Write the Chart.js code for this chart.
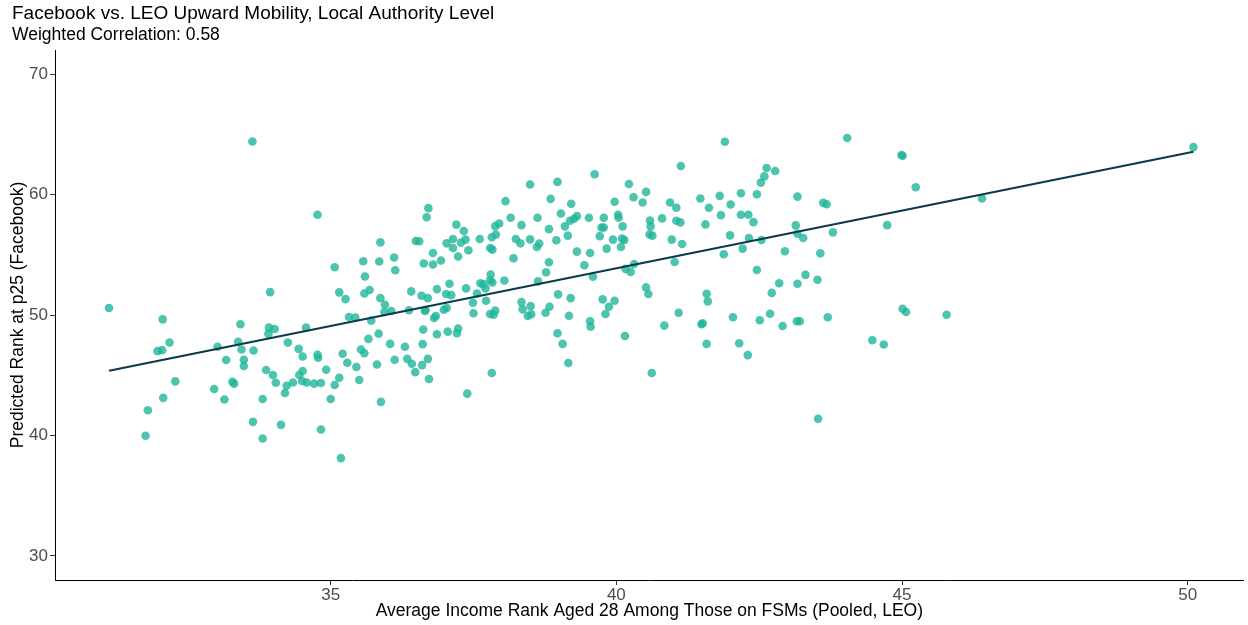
<!DOCTYPE html>
<html>
<head>
<meta charset="utf-8">
<script src="https://cdn.jsdelivr.net/npm/chart.js@4/dist/chart.umd.min.js"></script>
<style>
  html, body { margin: 0; padding: 0; background: #ffffff; }
  #wrap { width: 1248px; height: 625px; }
</style>
</head>
<body>
<div id="wrap"><canvas id="c" width="1248" height="625"></canvas></div>
<script>
// Average income rank at 28 among FSM pupils (LEO, pooled), one value per local authority
const leoRank = [
  31.12,32.06,32.18,31.97,32.05,33.02,33.42,33.94,33.92,34.02,33.91,33.38,33.44,33.65,33.17,33.48,33.48,32.28,32.96,33.28,
  33.31,32.07,33.14,33.87,33.99,34.04,33.81,31.80,31.76,33.64,34.13,33.81,33.63,34.83,35.18,35.00,35.88,34.20,34.23,34.34,
  34.50,34.58,34.45,34.51,34.71,34.83,35.07,35.15,34.92,34.77,34.78,34.51,34.44,34.25,34.57,35.21,35.29,35.45,35.50,35.53,
  35.59,35.66,35.81,35.84,36.04,36.12,36.30,36.34,36.42,36.48,36.60,36.70,36.72,36.61,36.62,36.86,37.05,37.21,37.23,37.39,
  35.15,35.26,35.59,35.68,35.87,35.95,35.94,36.06,35.32,35.43,35.71,36.37,36.41,36.59,36.70,36.65,36.66,36.86,37.08,37.02,
  37.11,36.98,37.03,36.81,36.84,37.37,34.77,35.07,35.57,35.60,35.87,35.85,36.11,36.13,36.49,36.55,36.71,36.68,36.63,36.79,
  36.79,36.93,37.03,37.14,37.14,37.20,37.33,37.28,37.36,37.23,37.41,37.61,37.79,37.83,37.82,37.89,37.88,37.95,38.06,38.15,
  38.20,38.24,38.32,38.34,38.49,38.49,38.62,38.61,38.65,38.82,38.85,38.97,39.03,39.10,39.15,38.95,38.82,38.77,39.21,39.19,
  39.26,39.31,39.31,39.44,39.52,39.54,39.59,39.62,39.71,39.74,39.78,39.78,39.83,39.94,39.97,40.03,40.04,40.11,40.10,40.14,
  40.08,40.22,40.30,40.46,40.52,40.59,40.60,40.58,40.63,40.16,40.25,40.31,37.80,37.79,37.83,37.62,37.67,38.04,38.63,37.49,
  37.50,37.56,37.71,37.72,37.79,37.85,37.88,38.34,38.36,38.45,38.50,38.51,38.76,38.83,38.98,38.97,39.06,39.16,39.17,39.20,
  39.54,39.55,39.76,39.87,39.97,39.81,40.15,40.52,40.56,40.62,37.82,40.80,40.94,41.05,41.05,41.12,40.97,41.15,41.02,41.13,
  41.47,41.62,41.56,41.81,41.90,41.83,42.00,41.99,41.88,42.18,42.18,42.31,42.40,42.32,42.21,42.46,42.53,42.59,42.63,42.78,
  42.54,42.46,42.95,42.85,43.17,43.14,43.17,43.27,43.62,43.68,43.79,43.57,43.31,43.17,43.52,40.84,41.09,41.49,41.51,41.58,
  41.60,41.58,42.04,42.15,42.30,42.51,42.69,42.72,42.91,43.16,43.21,43.70,43.53,44.04,44.99,45.01,45.24,44.74,46.40,44.48,
  44.68,45.01,45.07,45.78,50.10
];

// Predicted rank at p25 from Facebook data, same local authorities in the same order
const fbRank = [
  50.58,49.64,47.71,47.00,47.08,47.36,49.23,51.90,48.95,48.84,48.43,47.77,47.13,47.05,46.26,46.28,45.76,44.49,43.86,44.46,
  44.30,43.12,42.98,45.43,45.02,44.38,43.03,42.09,39.98,41.13,40.88,39.75,64.40,40.50,38.12,43.03,42.79,43.53,44.13,44.40,
  44.52,44.40,45.02,45.35,44.30,44.36,44.19,44.79,45.45,46.69,46.45,46.55,47.19,47.71,48.95,46.78,46.03,45.68,44.60,47.13,
  46.83,48.02,45.89,48.45,47.60,46.28,47.36,46.36,45.95,45.26,45.84,46.36,44.69,47.58,48.79,48.40,48.62,48.49,48.87,43.47,
  51.88,51.32,51.79,52.07,51.40,50.85,50.25,50.33,49.83,49.78,49.53,50.39,51.96,51.60,51.40,50.33,50.41,52.15,52.59,51.74,
  51.65,50.44,50.58,49.75,49.92,52.21,58.32,53.97,54.46,53.20,56.03,54.44,54.77,53.72,56.14,56.12,58.87,58.12,54.27,55.15,
  54.19,54.52,55.95,56.31,55.56,57.50,56.97,56.01,56.26,54.85,55.37,56.31,55.56,55.43,56.45,56.67,57.38,57.60,59.45,58.07,
  54.71,56.31,55.95,57.46,56.28,60.83,58.07,55.64,55.93,57.13,59.64,61.05,58.43,57.36,56.59,56.20,54.38,53.55,59.23,57.83,
  57.99,58.21,55.26,54.13,58.07,55.15,53.17,61.68,56.55,57.27,57.27,58.07,55.51,56.26,59.40,58.32,58.07,57.36,56.34,56.22,
  55.64,60.88,59.78,59.34,60.22,57.85,57.36,56.69,56.59,53.83,53.58,54.24,53.36,52.89,52.70,52.64,52.54,52.87,52.79,51.02,
  50.14,51.79,52.21,51.18,50.08,50.02,50.36,51.07,50.47,49.92,50.74,50.06,50.19,50.69,51.71,48.49,47.60,46.01,49.94,51.40,
  49.48,49.03,51.30,50.69,51.18,50.08,48.26,52.29,51.74,45.18,45.18,58.02,59.34,58.90,57.83,57.69,56.26,55.89,54.40,62.37,
  59.67,58.90,57.52,59.89,64.38,58.29,59.17,56.61,55.04,60.11,58.32,58.32,57.71,56.39,55.51,60.02,60.99,61.51,62.21,61.96,
  56.22,53.74,55.29,52.64,59.83,57.44,56.75,56.39,59.31,59.20,56.86,55.12,53.33,52.59,52.92,49.12,50.19,49.23,49.31,51.76,
  51.13,47.60,49.81,47.66,46.67,49.56,50.11,51.84,49.09,49.48,49.48,49.81,41.38,64.69,63.28,63.22,60.60,57.46,59.67,47.91,
  47.55,50.52,50.25,50.02,63.94
];

// Ends of the weighted linear fit
const fitX = [31.12, 50.10];
const fitY = [45.37, 63.55];

// Tick values shown on each axis
const xTicks = [35, 40, 45, 50];
const yTicks = [30, 40, 50, 60, 70];

const FONT = '"Liberation Sans", Arial, Helvetica, sans-serif';

const points = leoRank.map((x, i) => ({ x: x, y: fbRank[i] }));
const fitLine = fitX.map((x, i) => ({ x: x, y: fitY[i] }));

new Chart(document.getElementById('c').getContext('2d'), {
  type: 'scatter',
  data: {
    datasets: [
      {
        type: 'line',
        data: fitLine,
        borderColor: '#0a3a4c',
        borderWidth: 2.2,
        pointRadius: 0,
        fill: false,
        order: 0
      },
      {
        data: points,
        backgroundColor: 'rgba(31,181,154,0.8)',
        borderWidth: 0,
        pointRadius: 4.3,
        order: 1
      }
    ]
  },
  options: {
    responsive: false,
    animation: false,
    layout: { padding: { left: 12, right: 3, top: 0, bottom: 0 } },
    plugins: {
      legend: { display: false },
      tooltip: { enabled: false },
      title: {
        display: true,
        text: 'Facebook vs. LEO Upward Mobility, Local Authority Level',
        align: 'start',
        color: '#000000',
        font: { family: FONT, size: 19, weight: 'normal' },
        padding: { top: 2, bottom: 0 }
      },
      subtitle: {
        display: true,
        text: 'Weighted Correlation: 0.58',
        align: 'start',
        color: '#000000',
        font: { family: FONT, size: 17.5, weight: 'normal' },
        padding: { top: 0, bottom: 4.2 }
      }
    },
    scales: {
      x: {
        type: 'linear',
        min: 30.175,
        max: 50.98,
        afterBuildTicks: s => { s.ticks = xTicks.map(v => ({ value: v })); },
        afterFit: s => { s.height = 45; },
        border: { display: true, color: '#000000', width: 1 },
        grid: { drawOnChartArea: false, drawTicks: true, tickLength: 5, color: '#333333' },
        ticks: { color: '#4d4d4d', font: { family: FONT, size: 17 }, padding: 0, maxRotation: 0 },
        title: {
          display: true,
          text: 'Average Income Rank Aged 28 Among Those on FSMs (Pooled, LEO)',
          color: '#000000',
          font: { family: FONT, size: 17.5 },
          padding: { top: 0, bottom: 3 }
        }
      },
      y: {
        type: 'linear',
        min: 28,
        max: 72,
        afterBuildTicks: s => { s.ticks = yTicks.map(v => ({ value: v })); },
        afterFit: s => { s.width = 43; },
        border: { display: true, color: '#000000', width: 1 },
        grid: { drawOnChartArea: false, drawTicks: true, tickLength: 5, color: '#333333' },
        ticks: { color: '#4d4d4d', font: { family: FONT, size: 17 }, padding: 2 },
        title: {
          display: true,
          text: 'Predicted Rank at p25 (Facebook)',
          color: '#000000',
          font: { family: FONT, size: 17.5 },
          padding: { top: -4, bottom: 0 }
        }
      }
    }
  }
});
</script>
</body>
</html>
